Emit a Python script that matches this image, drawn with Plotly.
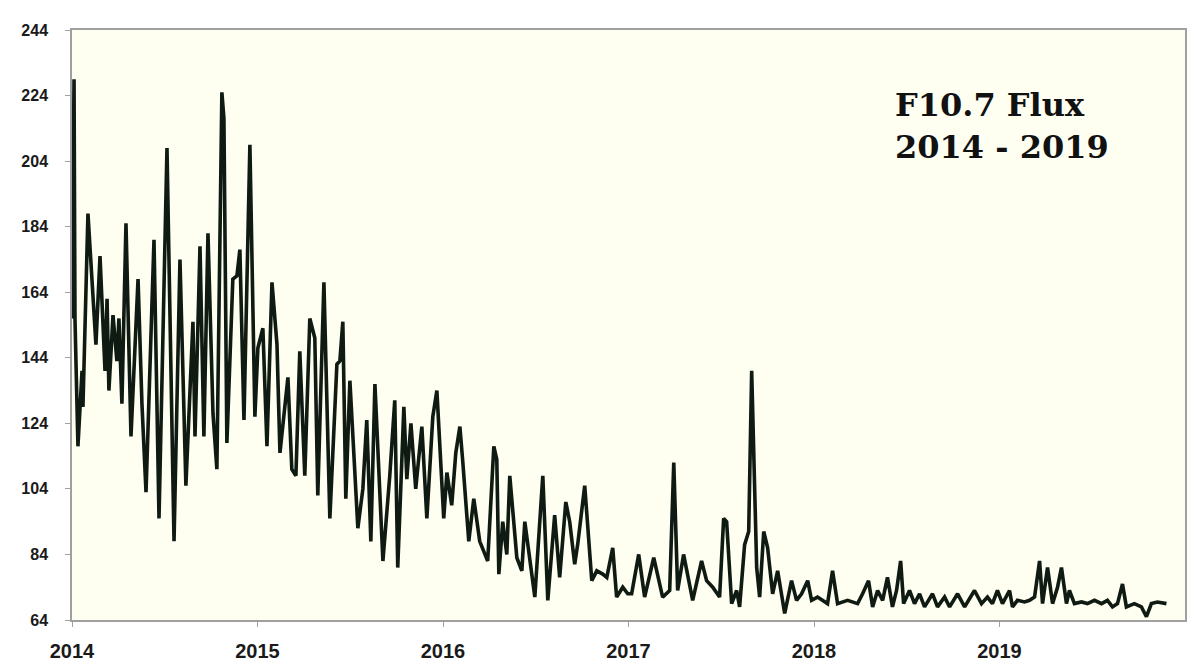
import plotly.graph_objects as go

# Decimal years and F10.7 flux values
years = [2014.000, 2014.011, 2014.016, 2014.032, 2014.054, 2014.059, 2014.086, 2014.108, 2014.129, 2014.151,
         2014.178, 2014.189, 2014.199, 2014.221, 2014.242, 2014.253, 2014.269, 2014.291, 2014.318, 2014.356,
         2014.377, 2014.399, 2014.442, 2014.469, 2014.512, 2014.550, 2014.582, 2014.614, 2014.652, 2014.663,
         2014.690, 2014.711, 2014.733, 2014.760, 2014.781, 2014.808, 2014.819, 2014.835, 2014.867, 2014.889,
         2014.905, 2014.927, 2014.943, 2014.959, 2014.986, 2015.002, 2015.029, 2015.051, 2015.078, 2015.105,
         2015.121, 2015.148, 2015.164, 2015.185, 2015.207, 2015.228, 2015.255, 2015.282, 2015.309, 2015.325,
         2015.358, 2015.390, 2015.428, 2015.444, 2015.460, 2015.476, 2015.498, 2015.541, 2015.568, 2015.589,
         2015.611, 2015.633, 2015.676, 2015.713, 2015.740, 2015.756, 2015.789, 2015.805, 2015.827, 2015.853,
         2015.886, 2015.913, 2015.945, 2015.967, 2016.004, 2016.021, 2016.047, 2016.069, 2016.091, 2016.107,
         2016.139, 2016.166, 2016.198, 2016.241, 2016.274, 2016.290, 2016.301, 2016.322, 2016.344, 2016.360,
         2016.398, 2016.425, 2016.441, 2016.495, 2016.538, 2016.565, 2016.602, 2016.629, 2016.662, 2016.683,
         2016.710, 2016.726, 2016.764, 2016.802, 2016.829, 2016.861, 2016.883, 2016.915, 2016.936, 2016.969,
         2016.996, 2017.017, 2017.055, 2017.087, 2017.136, 2017.184, 2017.222, 2017.244, 2017.265, 2017.297,
         2017.346, 2017.394, 2017.421, 2017.454, 2017.491, 2017.513, 2017.529, 2017.556, 2017.583, 2017.599,
         2017.626, 2017.648, 2017.664, 2017.691, 2017.707, 2017.729, 2017.750, 2017.777, 2017.804, 2017.842,
         2017.879, 2017.906, 2017.933, 2017.966, 2017.987, 2018.019, 2018.073, 2018.100, 2018.127, 2018.181,
         2018.235, 2018.262, 2018.294, 2018.316, 2018.343, 2018.370, 2018.396, 2018.423, 2018.445, 2018.467,
         2018.483, 2018.515, 2018.542, 2018.569, 2018.596, 2018.639, 2018.666, 2018.704, 2018.731, 2018.774,
         2018.812, 2018.865, 2018.903, 2018.935, 2018.962, 2018.989, 2019.016, 2019.054, 2019.070, 2019.097,
         2019.135, 2019.162, 2019.189, 2019.216, 2019.232, 2019.259, 2019.286, 2019.313, 2019.334, 2019.361,
         2019.377, 2019.404, 2019.442, 2019.474, 2019.512, 2019.550, 2019.582, 2019.609, 2019.636, 2019.663,
         2019.684, 2019.727, 2019.765, 2019.792, 2019.819, 2019.851, 2019.900]

flux = [156, 229, 156, 117, 140, 129, 188, 167, 148, 175,
        140, 162, 134, 157, 143, 156, 130, 185, 120, 168,
        130, 103, 180, 95, 208, 88, 174, 105, 155, 120,
        178, 120, 182, 127, 110, 225, 217, 118, 168, 169,
        177, 125, 162, 209, 126, 147, 153, 117, 167, 148,
        115, 128, 138, 110, 108, 146, 108, 156, 150, 102,
        167, 95, 142, 143, 155, 101, 137, 92, 104, 125,
        88, 136, 82, 108, 131, 80, 129, 107, 124, 104,
        123, 95, 126, 134, 95, 109, 99, 115, 123, 112,
        88, 101, 88, 82, 117, 113, 78, 94, 84, 108,
        83, 79, 94, 71, 108, 70, 96, 77, 100, 94,
        81, 87, 105, 76, 79, 78, 77, 86, 71, 74,
        72, 72, 84, 71, 83, 71, 73, 112, 73, 84,
        70, 82, 76, 74, 71, 95, 94, 69, 73, 68,
        87, 91, 140, 80, 71, 91, 86, 72, 79, 66,
        76, 70, 72, 76, 70, 71, 69, 79, 69, 70,
        69, 72, 76, 68, 73, 70, 77, 68, 73, 82,
        69, 73, 69, 72, 68, 72, 68, 71, 68, 72,
        68, 73, 69, 71, 69, 73, 69, 73, 68, 70,
        69.5, 70, 71, 82, 69, 80, 69, 74, 80, 69,
        73, 69, 69.5, 69, 70, 69, 70, 68, 69, 75,
        68, 69, 68, 65, 69, 69.5, 69]

x_ticks = [2014, 2015, 2016, 2017, 2018, 2019]
y_ticks = [64, 84, 104, 124, 144, 164, 184, 204, 224, 244]

fig = go.Figure()
fig.add_trace(go.Scatter(x=years, y=flux, mode="lines",
                         line=dict(color="#0f1a12", width=3.6),
                         hoverinfo="x+y", showlegend=False))

fig.update_layout(
    width=1204, height=671,
    margin=dict(l=64, r=27, t=22, b=59),
    paper_bgcolor="white",
    plot_bgcolor="#FEFEF1",
    xaxis=dict(range=[2014, 2020], tickvals=x_ticks, ticktext=[str(v) for v in x_ticks],
               automargin=False,
               showgrid=False, zeroline=False, showline=True, mirror=True,
               linecolor="#a0a0a0", linewidth=1.5, ticks="outside", ticklen=5,
               tickcolor="#a0a0a0", ticklabelstandoff=7,
               tickfont=dict(family="Liberation Sans, Arial", size=20, color="#1a1a1a", weight="bold")),
    yaxis=dict(range=[64, 244], tickvals=y_ticks, ticktext=[str(v) for v in y_ticks],
               automargin=False,
               showgrid=False, zeroline=False, showline=True, mirror=True,
               linecolor="#a0a0a0", linewidth=1.5, ticks="outside", ticklen=5,
               tickcolor="#a0a0a0", ticklabelstandoff=14,
               tickfont=dict(family="Liberation Sans, Arial", size=16, color="#1a1a1a", weight="bold")),
    annotations=[dict(text="F10.7 Flux<br>2014 - 2019", xref="paper", yref="paper",
                      x=0.738, y=0.908, xanchor="left", yanchor="top", align="left",
                      showarrow=False,
                      font=dict(family="DejaVu Serif, Liberation Serif", size=32,
                                color="#111111", weight="bold"))],
)

fig.write_html("out.html")
